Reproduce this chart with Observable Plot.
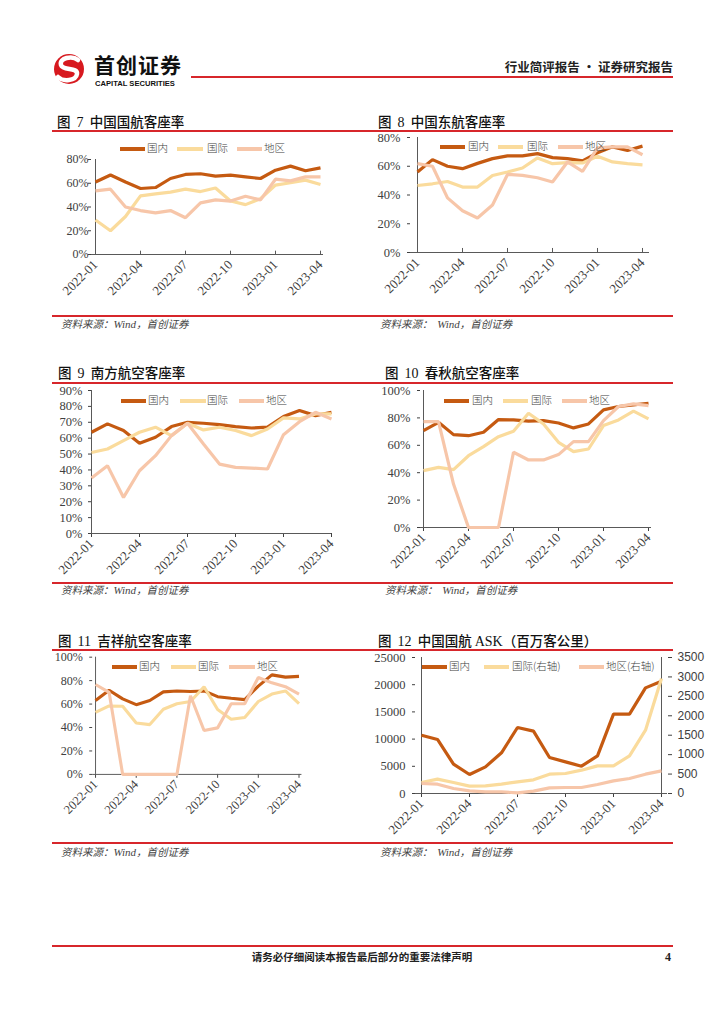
<!DOCTYPE html>
<html><head><meta charset="utf-8">
<script src="https://cdn.jsdelivr.net/npm/d3@7"></script>
<script src="https://cdn.jsdelivr.net/npm/@observablehq/plot@0.6"></script>
<style>
body{margin:0;background:#fff;}
#page{position:relative;width:724px;height:1024px;overflow:hidden;background:#fff;font-family:"Noto Sans CJK SC",sans-serif;color:#222;}
.abs{position:absolute;white-space:nowrap;}
.redline{position:absolute;background:#d7262b;}
.title{position:absolute;font-size:13.5px;font-weight:500;color:#111;line-height:1;white-space:nowrap;}
.title .n{font-family:"Liberation Serif",serif;font-size:14px;}
.src{position:absolute;font-size:10.5px;font-style:italic;color:#444;line-height:1;white-space:nowrap;}
.src .w{font-family:"Liberation Serif",serif;font-size:11px;}
.lg{position:absolute;font-size:10.5px;font-weight:300;color:#404040;line-height:1;white-space:nowrap;}
.lgl{position:absolute;height:3.5px;}
</style></head><body><div id="page"></div>
<script>
const months = ["2022-01","2022-02","2022-03","2022-04","2022-05","2022-06","2022-07","2022-08","2022-09","2022-10","2022-11","2022-12","2023-01","2023-02","2023-03","2023-04"];
const tickMonths = ["2022-01","2022-04","2022-07","2022-10","2023-01","2023-04"];
const seriesNames = ["国内","国际","地区"];
const seriesColors = ["#C55A11","#FADB9C","#F7C6A9"];

// 图7 中国国航客座率 (%)
const caDom  = [61,67,61,55.6,56.4,64,67.4,68,66,66.8,65.4,64,71,74.4,70.5,73];
const caIntl = [29,20,32,49.4,51,52.5,55,53,56,45,42,47,58.4,60.4,62.6,59];
const caReg  = [53.6,55,40,37,35,37,31,43.5,46,45,49,46,63.4,62,65.4,65.4];
// 图8 中国东航客座率 (%)
const meDom  = [56,64.6,60,58.3,62,65.3,67.2,67.2,68.8,66,65.3,63.7,69.3,73.5,71,74];
const meIntl = [46.6,47.8,49.4,45.5,45.5,53.6,56,58.8,65.8,61.8,62.5,62.3,67,63,61.8,61];
const meReg  = [61.8,60,38,29,24,33,54.3,53.6,52,49,63,56.4,72.8,73.5,73.5,68];
// 图9 南方航空客座率 (%)
const czDom  = [63.7,69,64.8,56.8,60.6,67.3,70,69.4,68.5,67.3,66.4,66.9,73.6,77.4,74.2,76.3];
const czIntl = [51,53.2,58.5,63.7,66.9,61.6,69.4,65.2,66.9,64.8,61.6,65.8,72.8,72.1,75.3,75.3];
const czReg  = [34.9,42.7,22.7,39.5,49,61.6,69.4,56.3,43.7,41.6,41.2,40.6,62.2,70.4,76.3,72.1];
// 图10 春秋航空客座率 (%)
const sqDom  = [70.7,76.8,67.8,67,69.5,78.8,78.5,77.6,78,76.3,72.7,75.6,85.9,88.3,89.5,90.7];
const sqIntl = [41.5,43.9,42.2,52.4,59,66.3,70.2,83.4,75.6,62.2,55.4,57.3,74.4,78.5,84.9,79.3];
const sqReg  = [77.3,77.3,31.7,0,0,0,54.9,49.3,49.3,53.2,62.7,62.7,78,88.3,90.2,89];
// 图11 吉祥航空客座率 (%)
const jxDom  = [63,71.8,64.4,59.5,63,70.4,71.2,70.7,71.2,66.3,64.9,63.8,75.3,84.9,83,83.6];
const jxIntl = [52.9,58.4,58.1,43.8,42.5,55.6,60.3,62.2,74.8,55.3,47.1,48.5,62.2,68.5,71.2,60.3];
const jxReg  = [76.7,70,0,0,0,0,0,67.1,37.5,39.7,60.3,60.3,82.7,78.1,74.8,68.5];
// 图12 中国国航 ASK (百万客公里)
const askDom  = [10720,9930,5390,3490,4900,7480,12130,11460,6620,5820,5020,6920,14580,14580,19420,20650];
const askIntl = [283,369,283,189,197,240,300,352,497,515,600,712,712,969,1630,2960];
const askReg  = [257,240,129,69,43,43,17,60,146,154,154,232,326,386,497,583];
const askLeftTicks = [0,5000,10000,15000,20000,25000];
const askRightTicks = [0,500,1000,1500,2000,2500,3000,3500];

const page = document.getElementById("page");
function el(tag, cls, style, html){const e=document.createElement(tag); if(cls) e.className=cls; Object.assign(e.style, style||{}); if(html!=null) e.innerHTML=html; page.appendChild(e); return e;}

function toRows(arrs, names){return arrs.flatMap((a,j)=>a.map((v,i)=>({month:months[i], value:v, series:names[j]})));}

function chart(cfg){
  const ml=60, mr=cfg.mr||14, mt=10, mb=70;
  const w=cfg.x1-cfg.x0+ml+mr, h=cfg.yBot-cfg.yTop+mt+mb;
  const rows = toRows(cfg.series, seriesNames);
  const marks = [
    Plot.axisY({ticks: cfg.yTicks, tickFormat: cfg.yFmt, tickSize: 3, tickPadding: cfg.gap-3, fontFamily:"Liberation Serif", fontSize: cfg.yFont||12.5, color:"#404040"}),
    Plot.axisX({ticks: tickMonths, tickRotate:-45, tickSize: cfg.xIn?0:4, tickPadding: cfg.xIn?8:4, fontFamily:"Liberation Serif", fontSize:13, color:"#404040"}),
    Plot.ruleX([months[0]], {stroke:"#595959"}),
    Plot.ruleY([0], {stroke:"#595959"})
  ];
  if(cfg.xIn) marks.push(Plot.ruleX(tickMonths, {x:d=>d, y1:d=>0, y2:d=>cfg.yMax*0.035, stroke:"#595959"}));
  if(cfg.right) marks.push(...cfg.right);
  marks.push(Plot.line(rows, {x:"month", y:"value", z:"series", stroke:"series", strokeWidth:3.2, strokeLinejoin:"miter", strokeLinecap:"butt"}));
  const svg = Plot.plot({
    width:w, height:h, marginLeft:ml, marginRight:mr, marginTop:mt, marginBottom:mb,
    style:{background:"transparent", overflow:"visible"},
    x:{type:"point", domain:months, padding:0, label:null},
    y:{domain:[0,cfg.yMax], label:null},
    color:{domain:seriesNames, range:seriesColors},
    marks
  });
  const wrap = el("div","abs",{left:(cfg.x0-ml)+"px", top:(cfg.yTop-mt)+"px", width:(cfg.clipRight? (cfg.clipRight-(cfg.x0-ml)) : w)+"px", height:h+"px", overflow: cfg.clipRight?"hidden":"visible"});
  wrap.appendChild(svg);
}

function legend(y, lines, texts, labels){
  lines.forEach((l,i)=>{
    el("div","lgl",{left:l[0]+"px", top:(y-1.75)+"px", width:(l[1]-l[0])+"px", background:seriesColors[i]});
    el("div","lg",{left:texts[i]+"px", top:(y-6)+"px"}, labels[i]);
  });
}
function title(x,y,num,text){ el("div","title",{left:x+"px", top:(y-7)+"px"}, `图&nbsp;&nbsp;<span class="n">${num}</span>&nbsp;&nbsp;${text}`); }
function src(x,y,gap){ el("div","src",{left:x+"px", top:(y-5)+"px"}, `资料来源：${gap?'&nbsp;&nbsp;':''}<span class="w">Wind</span>，首创证券`); }
function hline(x0,x1,y,t,c){ el("div","redline",{left:x0+"px", top:(y-t/2)+"px", width:(x1-x0)+"px", height:t+"px", background:c||"#d7262b"}); }

// Header
el("div","abs",{left:"50px", top:"52px"}, `<svg width="38" height="36" viewBox="0 0 38 36"><circle cx="19" cy="17" r="15" fill="#d7191f"/><path d="M28,8 C22,3 9,6 11,13 C13,19 28,15 27,22 C26,29 13,30 8,25" fill="none" stroke="#fff" stroke-width="4.5" stroke-linecap="round"/></svg>`);
el("div","abs",{left:"94px", top:"54px", fontSize:"21px", fontWeight:"700", color:"#111", lineHeight:"1", letterSpacing:"1px"}, "首创证券");
el("div","abs",{left:"95px", top:"80px", fontSize:"7.6px", fontWeight:"700", color:"#111", lineHeight:"1", fontFamily:"'Liberation Sans',Arial,sans-serif"}, "CAPITAL SECURITIES");
hline(191,673,77,2.5);
el("div","abs",{right:(724-673)+"px", top:"61px", fontSize:"12.5px", fontWeight:"700", color:"#222", lineHeight:"1"}, "行业简评报告 · 证券研究报告");

// Footer
hline(52,673,946,2.5);
el("div","abs",{left:"0", width:"724px", textAlign:"center", top:"952px", fontSize:"10.5px", fontWeight:"700", color:"#222", lineHeight:"1"}, "请务必仔细阅读本报告最后部分的重要法律声明");
el("div","abs",{left:"665px", top:"951px", fontSize:"12px", fontWeight:"700", color:"#222", lineHeight:"1", fontFamily:"'Liberation Serif',serif"}, "4");

// Section lines
hline(52,370,131,1.2); hline(370,673,131,1.2);
hline(52,370,316,1.2); hline(370,673,316,1.2);
hline(52,370,383,1.2); hline(370,673,383,1.2);
hline(52,370,583,1.2); hline(370,673,583,1.2);
hline(52,370,650,1.2); hline(370,673,650,1.2);
hline(52,370,843,1.2); hline(370,673,843,1.2);

const pct = d=>d+"%";
// Chart 7
title(57,122,"7","中国国航客座率");
chart({x0:91,x1:323,yTop:159,yBot:254,yMax:80,yTicks:[0,20,40,60,80],yFmt:pct,gap:3,yFont:12,xIn:true,series:[caDom,caIntl,caReg]});
legend(149,[[120,145],[177,203],[237,262]],[147,207,264],seriesNames);
src(61,324,false);
// Chart 8
title(378,122,"8","中国东航客座率");
chart({x0:410,x1:649,yTop:137,yBot:252,yMax:80,yTicks:[0,20,40,60,80],yFmt:pct,gap:10,xIn:true,series:[meDom,meIntl,meReg]});
legend(147,[[440,465],[498,523],[558,583]],[468,527,585],seriesNames);
src(380,324,true);
// Chart 9
title(58,373,"9","南方航空客座率");
chart({x0:91,x1:331,yTop:390,yBot:533,yMax:90,yTicks:d3.range(0,91,10),yFmt:pct,gap:9,series:[czDom,czIntl,czReg]});
legend(401,[[121,146],[180,206],[239,264]],[148,207,266],seriesNames);
src(61,590,false);
// Chart 10
title(385,373,"10","春秋航空客座率");
chart({x0:420,x1:651,yTop:390,yBot:527,yMax:100,yTicks:[0,20,40,60,80,100],yFmt:pct,gap:10,series:[sqDom,sqIntl,sqReg]});
legend(401,[[444,469],[503,528],[562,587]],[472,531,589],seriesNames);
src(385,590,true);
// Chart 11
title(58,641,"11","吉祥航空客座率");
chart({x0:94,x1:310,yTop:657,yBot:778,yMax:100,yTicks:[0,20,40,60,80,100],yFmt:pct,gap:10,clipRight:315,series:[jxDom,jxIntl,jxReg]});
legend(667,[[112,137],[171,196],[229,255]],[139,198,257],seriesNames);
src(61,852,false);
// Chart 12
title(378,641,"12",`中国国航 <span class="n">ASK</span>（百万客公里）`);
const k = 25000/3500;
chart({x0:415,x1:667,yTop:657,yBot:793,yMax:25000,yTicks:askLeftTicks,yFmt:d=>String(d),gap:10,mr:50,
  series:[askDom, askIntl.map(v=>v*k), askReg.map(v=>v*k)],
  right:[
    Plot.ruleX([months[15]],{stroke:"#595959"}),
    Plot.axisY(askRightTicks.map(v=>v*k),{anchor:"right", tickFormat:d=>String(Math.round(d/k)), tickSize:4, tickPadding:6, fontFamily:"Liberation Sans", fontSize:12, color:"#404040"})
  ]});
legend(667,[[422,447],[484,509],[579,604]],[449,512,606],["国内","国际(右轴)","地区(右轴)"]);
src(380,852,true);
</script></body></html>
